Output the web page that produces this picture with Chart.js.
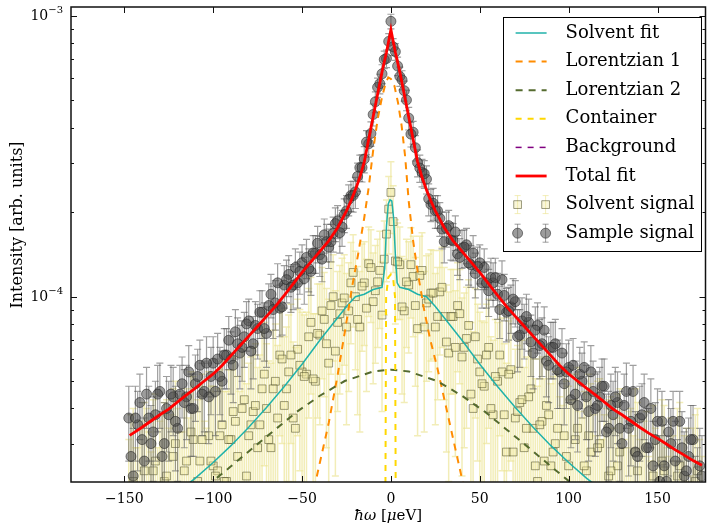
<!DOCTYPE html>
<html>
<head>
<meta charset="utf-8">
<script src="https://cdn.jsdelivr.net/npm/chart.js@4.4.1/dist/chart.umd.min.js"></script>
<style>
  html, body { margin: 0; padding: 0; background: #fff; }
  #wrap { width: 712px; height: 528px; }
</style>
</head>
<body>
<div id="wrap"><canvas id="qensChart" width="712" height="528"></canvas></div>
<script>
// all intensities are typed in units of 1e-6 (arb. units)
var UNIT = 1e-6;

// energy transfer bins of the measured spectra [ueV], first half of the bins
var energy = [-147.5,-145,-142.5,-140,-137.5,-135,-132.5,-130,-127.5,-125,-122.5,-120,-117.5,-115,-112.5,-110,-107.5,-105,-102.5,-100,
  -97.5,-95,-92.5,-90,-87.5,-85,-82.5,-80,-77.5,-75,-72.5,-70,-67.5,-65,-62.5,-60,-57.5,-55,-52.5,-50,
  -47.5,-45,-42.5,-40,-37.5,-35,-32.5,-30,-27.5,-25,-22.5,-20,-17.5,-15,-12.5,-10,-7.5,-5,-2.5,0,
  2.5,5,7.5,10,12.5,15,17.5,20,22.5,25,27.5,30,32.5,35,37.5,40,42.5,45,47.5,50,
  52.5,55,57.5,60,62.5,65,67.5,70,72.5,75,77.5,80,82.5,85,87.5,90,92.5,95,97.5,100,
  102.5,105,107.5,110,112.5,115,117.5,120,122.5,125,127.5,130,132.5,135,137.5,140,142.5,145,147.5,150,
  152.5,155,157.5,160,162.5,165,167.5,170,172.5,175];

var sampleSignal = [37,23,35,31,45,30,38,46,30,38,44,34,49,44,40,49,57,46,44,58,
  60,50,62,60,75,63,72,82,68,77,88,74,102,95,91,110,120,110,112,132,
  138,123,143,141,166,150,168,186,177,202,229,236,288,309,350,445,556,621,704,955,
  745,608,541,432,385,300,277,262,213,202,190,157,179,158,142,149,153,130,121,132,
  127,105,112,102,115,88,92,96,73,77,81,63,79,68,59,66,68,54,49,56,
  57,41,50,44,54,40,44,48,34,38,42,30,46,36,28,37,42,29,25,36,
  36,22,30,26,36,23,27,31,20,23];
var sampleError = [11,11,11,11,11,11,12,12,12,12,12,12,12,13,13,13,13,13,14,14,
  14,14,15,15,15,16,16,16,17,17,17,18,18,19,19,19,20,20,21,21,
  22,22,22,23,23,24,24,25,26,27,28,30,31,33,36,40,44,48,51,57,
  51,48,44,40,36,33,31,30,28,27,26,25,24,24,23,23,22,22,22,21,
  21,20,20,19,19,19,18,18,17,17,17,16,16,16,15,15,15,14,14,14,
  14,13,13,13,13,13,12,12,12,12,12,12,12,11,11,11,11,11,11,11,
  10,10,10,10,10,10,10,10,9,9];

var solventSignal = [13,22,11,17,21,9,26,17,22,14,27,20,12,26,33,18,26,14,32,25,
  24,35,22,31,36,21,43,32,39,29,47,40,29,50,62,41,54,37,65,54,
  53,81,50,73,83,58,100,81,95,78,112,100,78,112,131,96,113,86,167,235,
  134,130,89,110,118,77,124,95,103,78,104,85,63,85,93,61,71,45,72,54,
  48,66,38,50,54,28,55,37,42,29,44,34,22,36,41,25,30,20,32,25,
  21,34,15,24,28,11,30,18,23,14,25,18,10,21,28,13,18,9,23,14,
  26,12,20,9,25,16,6,18,24,11];
var solventError = [18,18,18,18,19,19,19,19,20,20,20,20,21,21,21,21,22,22,22,23,
  23,24,24,24,25,25,26,26,27,27,28,28,29,30,30,31,32,32,33,34,
  35,36,37,38,39,40,41,42,42,43,44,45,45,45,46,47,47,47,54,67,
  54,47,47,47,46,45,45,45,44,43,42,42,41,40,39,38,37,36,35,34,
  33,32,32,31,30,30,29,28,28,27,27,26,26,25,25,24,24,24,23,23,
  22,22,22,21,21,21,21,20,20,20,20,19,19,19,19,18,18,18,18,18,
  17,17,17,17,17,16,16,16,16,16];

// second half of the bins, in between the ones above
var energyB = [-146.25,-143.75,-141.25,-138.75,-136.25,-133.75,-131.25,-128.75,-126.25,-123.75,-121.25,-118.75,-116.25,-113.75,-111.25,-108.75,-106.25,-103.75,-101.25,-98.75,
  -96.25,-93.75,-91.25,-88.75,-86.25,-83.75,-81.25,-78.75,-76.25,-73.75,-71.25,-68.75,-66.25,-63.75,-61.25,-58.75,-56.25,-53.75,-51.25,-48.75,
  -46.25,-43.75,-41.25,-38.75,-36.25,-33.75,-31.25,-28.75,-26.25,-23.75,-21.25,-18.75,-16.25,-13.75,-11.25,-8.75,-6.25,-3.75,-1.25,1.25,
  3.75,6.25,8.75,11.25,13.75,16.25,18.75,21.25,23.75,26.25,28.75,31.25,33.75,36.25,38.75,41.25,43.75,46.25,48.75,51.25,
  53.75,56.25,58.75,61.25,63.75,66.25,68.75,71.25,73.75,76.25,78.75,81.25,83.75,86.25,88.75,91.25,93.75,96.25,98.75,101.25,
  103.75,106.25,108.75,111.25,113.75,116.25,118.75,121.25,123.75,126.25,128.75,131.25,133.75,136.25,138.75,141.25,143.75,146.25,148.75,151.25,
  153.75,156.25,158.75,161.25,163.75,166.25,168.75,171.25,173.75];

var sampleSignalB = [27,37,42,26,37,33,45,27,40,45,36,45,42,54,40,52,45,58,52,46,
  52,62,70,57,68,66,80,64,79,88,77,93,90,112,92,115,108,127,123,116,
  126,143,155,136,157,157,182,169,196,222,229,268,288,355,381,494,573,698,810,775,
  662,591,501,379,339,287,274,223,215,202,174,175,159,170,138,150,132,143,128,112,
  112,117,117,90,101,89,98,72,82,85,69,76,67,76,57,66,55,63,54,43,
  45,53,56,39,46,41,48,33,41,44,34,41,34,46,27,38,29,40,31,22,
  25,33,36,21,29,24,31,18,25];
var sampleErrorB = [11,11,11,11,11,11,12,12,12,12,12,12,13,13,13,13,13,14,14,14,
  14,15,15,15,16,16,16,17,17,17,18,18,19,19,19,20,20,21,21,22,
  22,22,23,23,24,24,25,26,27,28,29,31,32,35,38,42,46,50,54,54,
  50,46,42,38,35,32,31,29,28,27,26,25,24,24,23,23,22,22,22,21,
  21,20,20,19,19,19,18,18,17,17,17,16,16,16,15,15,15,14,14,14,
  14,13,13,13,13,13,12,12,12,12,12,12,11,11,11,11,11,11,11,10,
  10,10,10,10,10,10,10,9,9];

var solventSignalB = [20,11,18,24,14,24,10,19,23,18,30,13,24,16,31,22,31,12,26,23,
  32,22,31,39,27,40,23,35,41,35,53,31,47,37,60,47,62,34,57,52,
  72,51,74,89,68,93,64,87,99,89,122,83,109,91,127,105,124,136,205,185,
  133,92,113,130,93,119,78,98,103,85,108,69,85,66,87,66,79,40,60,49,
  62,40,52,62,38,53,28,39,43,34,47,25,35,26,38,28,34,18,27,21,
  31,17,25,32,17,29,11,20,24,17,28,12,20,13,24,16,21,8,16,13,
  24,10,15,23,11,18,7,22,15];
var solventErrorB = [18,18,18,18,19,19,19,19,20,20,20,20,21,21,21,21,22,22,22,23,
  23,24,24,24,25,25,26,26,27,27,28,28,29,30,30,31,32,32,33,34,
  35,36,37,38,39,40,41,42,42,43,44,45,45,45,46,47,47,50,63,63,
  50,47,47,46,45,45,45,44,43,42,42,41,40,39,38,37,36,35,34,33,
  32,32,31,30,30,29,28,28,27,27,26,26,25,25,24,24,24,23,23,22,
  22,22,21,21,21,21,20,20,20,20,19,19,19,19,18,18,18,18,18,17,
  17,17,17,17,16,16,16,16,16];

// fitted curves
var solventFitE = [-150,-140,-130,-120,-110,-100,-90,-80,-70,-60,-50,-40,-30,-25,-20,-15,-10,-5,
  -3.5,-2.5,-1.5,-0.5,0.5,1.5,2.5,3.5,5,10,15,20,25,30,40,50,60,70,80,90,100,110,120,130,140,150,177];
var solventFit = [15.0,16.4,18.2,20.2,22.6,25.7,29.5,34.3,40.3,47.9,57.5,70.0,84.1,92.3,100,102,106,108,
  126,178,214,221,219,191,141,112,108,106,102,100,92.3,84.1,70.0,57.5,47.9,40.3,34.3,29.5,25.7,22.6,20.2,18.2,16.4,15.0,12.3];

var lorentz1E = [-48,-41,-35,-30,-25,-22,-18.5,-15,-12.5,-10,-7.5,-5,-3,-1.5,0,2,4,6,8,10,12.5,15,18.5,22,26,32,39,45];
var lorentz1 = [15.1,24.0,35.5,52.5,81.3,107,141,191,245,331,427,513,575,603,596,562,490,407,316,219,158,123,91.2,70.8,56.2,38.0,24.0,16.2];

var lorentz2E = [-150,-130,-115,-100,-90,-77,-65,-53,-40,-26,-10,0,10,26,40,53,65,77,90,100,115,130,150,177];
var lorentz2 = [12.6,15.7,18.5,22.1,24.9,29.2,33.7,38.9,44.4,50.1,54.2,55.0,54.2,50.1,44.4,38.9,33.7,29.2,24.9,22.1,18.5,15.7,12.6,10.0];

var containerE = [-6,-3.2,-2.7,-1.5,0,1.2,2.3,2.8,6];
var container = [2.5,12.6,100,117,120,117,100,12.6,2.5];

var backgroundE = [-180,177];
var background = [12,12];

var totalFitE = [-147,-145,-140,-135,-130,-125,-120,-115,-110,-105,-100,-95,-90,-85,-80,-75,-70,-65,-60,-55,-50,-45,-40,-35,-30,-25,
  -22.5,-20,-17.5,-15,-12.5,-10,-7.5,-5,-2.5,0,2.5,5,7.5,10,12.5,15,17.5,20,22.5,
  25,30,35,40,45,50,55,60,65,70,75,80,85,90,95,100,105,110,115,120,125,130,135,140,145,150,155,160,165,170,175];
var totalFit = [32.1,32.7,34.3,36.1,38.0,39.8,42.2,44.7,47.3,50.1,53.1,56.9,61.7,66.8,72.4,78.5,85.1,92.3,101,111,122,133,145,158,176,202,
  219,240,266,302,363,437,525,631,741,891,741,631,525,437,363,302,266,240,219,
  202,176,158,145,133,122,111,101,92.3,85.1,78.5,72.4,66.8,61.7,56.9,53.1,50.1,47.3,44.7,42.2,39.8,38.0,36.1,34.3,32.7,31.3,29.9,28.5,27.3,26.1,25.1];

// axis ticks
var xTicks = [-150, -100, -50, 0, 50, 100, 150];
var yMajorTicks = [1e-4, 1e-3];
var yLabelBase = '10';
var yLabelExponents = ['\u22124', '\u22123'];
var yMinorTicks = [3e-5, 4e-5, 5e-5, 6e-5, 7e-5, 8e-5, 9e-5, 2e-4, 3e-4, 4e-4, 5e-4, 6e-4, 7e-4, 8e-4, 9e-4];

var legendOrder = ['Solvent fit', 'Lorentzian 1', 'Lorentzian 2', 'Container', 'Background', 'Total fit', 'Solvent signal', 'Sample signal'];

var SERIF = "'DejaVu Serif', 'Liberation Serif', serif";

function toPoints(xs, ys) {
  return xs.map(function (x, i) { return { x: x, y: ys[i] * UNIT }; });
}

function toErrors(es) {
  return es.map(function (e) { return e * UNIT; });
}

function lineSet(label, xs, ys, color, width, dash) {
  return {
    label: label,
    data: toPoints(xs, ys),
    showLine: true,
    pointRadius: 0,
    borderColor: color,
    backgroundColor: color,
    borderWidth: width,
    borderDash: dash,
    fill: false,
    tension: 0,
    clip: 0
  };
}

function majorIndex(v) {
  for (var i = 0; i < yMajorTicks.length; i++) {
    if (Math.abs(v / yMajorTicks[i] - 1) < 1e-6) return i;
  }
  return -1;
}

// dataset 0 is drawn on top in Chart.js
var datasets = [
  lineSet('Total fit', totalFitE, totalFit, '#ff0000', 2.8, []),
  lineSet('Background', backgroundE, background, '#800080', 1.5, [6, 6]),
  lineSet('Container', containerE, container, '#ffd700', 2, [6, 6]),
  lineSet('Lorentzian 2', lorentz2E, lorentz2, '#556b2f', 2, [7, 6]),
  lineSet('Lorentzian 1', lorentz1E, lorentz1, '#ff8c00', 2, [7, 6]),
  lineSet('Solvent fit', solventFitE, solventFit, '#20b2aa', 1.5, []),
  {
    label: 'Sample signal',
    data: toPoints(energy, sampleSignal).concat(toPoints(energyB, sampleSignalB)),
    errors: toErrors(sampleError).concat(toErrors(sampleErrorB)),
    errorColor: 'rgba(90, 90, 90, 0.58)',
    errorWidth: 1.2,
    pointStyle: 'circle',
    pointRadius: 5,
    backgroundColor: 'rgba(75, 75, 75, 0.55)',
    borderColor: 'rgba(35, 35, 35, 0.55)',
    borderWidth: 1,
    clip: 0
  },
  {
    label: 'Solvent signal',
    data: toPoints(energy, solventSignal).concat(toPoints(energyB, solventSignalB)),
    errors: toErrors(solventError).concat(toErrors(solventErrorB)),
    errorColor: 'rgba(236, 228, 150, 0.68)',
    errorWidth: 1.5,
    pointStyle: 'rect',
    pointRadius: 5.5,
    backgroundColor: 'rgba(240, 232, 160, 0.4)',
    borderColor: 'rgba(80, 80, 40, 0.55)',
    borderWidth: 1,
    clip: 0
  }
];

// vertical error bars with caps, drawn just before each dataset's markers
var errorBars = {
  id: 'errorBars',
  beforeDatasetDraw: function (chart, args) {
    var ds = chart.data.datasets[args.index];
    if (!ds.errors) return;
    var ctx = chart.ctx, a = chart.chartArea, ys = chart.scales.y;
    ctx.save();
    ctx.beginPath();
    ctx.rect(a.left, a.top, a.right - a.left, a.bottom - a.top);
    ctx.clip();
    ctx.strokeStyle = ds.errorColor;
    ctx.lineWidth = ds.errorWidth;
    args.meta.data.forEach(function (pt, i) {
      var v = ds.data[i].y, e = ds.errors[i];
      var top = ys.getPixelForValue(v + e);
      var bot = v - e > 0 ? ys.getPixelForValue(v - e) : a.bottom + 10;
      ctx.beginPath();
      ctx.moveTo(pt.x, top); ctx.lineTo(pt.x, bot);
      ctx.moveTo(pt.x - 3.5, top); ctx.lineTo(pt.x + 3.5, top);
      ctx.moveTo(pt.x - 3.5, bot); ctx.lineTo(pt.x + 3.5, bot);
      ctx.stroke();
    });
    ctx.restore();
  }
};

// matplotlib style frame with inward ticks on all four sides, plus y tick labels
var frameTicks = {
  id: 'frameTicks',
  afterDatasetsDraw: function (chart) {
    var ctx = chart.ctx, a = chart.chartArea, xs = chart.scales.x, ys = chart.scales.y;
    ctx.save();
    ctx.strokeStyle = '#111';
    ctx.lineWidth = 1;
    ctx.beginPath();
    xs.ticks.forEach(function (t) {
      var px = Math.round(xs.getPixelForValue(t.value)) + 0.5;
      ctx.moveTo(px, a.bottom); ctx.lineTo(px, a.bottom - 6);
      ctx.moveTo(px, a.top); ctx.lineTo(px, a.top + 6);
    });
    ys.ticks.forEach(function (t) {
      var py = Math.round(ys.getPixelForValue(t.value)) + 0.5;
      var len = majorIndex(t.value) >= 0 ? 6 : 3;
      ctx.moveTo(a.left, py); ctx.lineTo(a.left + len, py);
      ctx.moveTo(a.right, py); ctx.lineTo(a.right - len, py);
    });
    ctx.stroke();
    ctx.lineWidth = 1.5;
    ctx.strokeRect(a.left, a.top, a.right - a.left, a.bottom - a.top);

    // "10" with a raised exponent
    ctx.fillStyle = '#000';
    ctx.textAlign = 'right';
    ctx.textBaseline = 'middle';
    ys.ticks.forEach(function (t) {
      var k = majorIndex(t.value);
      if (k < 0) return;
      var py = ys.getPixelForValue(t.value);
      ctx.font = '10px ' + SERIF;
      var ew = ctx.measureText(yLabelExponents[k]).width;
      ctx.fillText(yLabelExponents[k], a.left - 8, py - 5);
      ctx.font = '14px ' + SERIF;
      ctx.fillText(yLabelBase, a.left - 8 - ew, py + 1);
    });
    ctx.restore();
  }
};

// axis titles and the boxed legend in the upper right corner
var annotate = {
  id: 'annotate',
  afterDraw: function (chart) {
    var ctx = chart.ctx, a = chart.chartArea;
    ctx.save();
    ctx.fillStyle = '#000';

    // x title with italic symbols
    var parts = [['italic', '\u0127\u03C9'], ['normal', ' ['], ['italic', '\u03BC'], ['normal', 'eV]']];
    var total = 0;
    parts.forEach(function (p) { ctx.font = p[0] + ' 15px ' + SERIF; total += ctx.measureText(p[1]).width; });
    var cx = (a.left + a.right) / 2 - total / 2;
    ctx.textBaseline = 'alphabetic';
    ctx.textAlign = 'left';
    parts.forEach(function (p) {
      ctx.font = p[0] + ' 15px ' + SERIF;
      ctx.fillText(p[1], cx, 520);
      cx += ctx.measureText(p[1]).width;
    });

    // y title
    ctx.save();
    ctx.translate(18, 225);
    ctx.rotate(-Math.PI / 2);
    ctx.font = '16px ' + SERIF;
    ctx.textAlign = 'center';
    ctx.textBaseline = 'middle';
    ctx.fillText('Intensity [arb. units]', 0, 0);
    ctx.restore();

    // legend
    var rowH = 28.6;
    ctx.font = '18px ' + SERIF;
    var maxW = 0;
    legendOrder.forEach(function (l) { maxW = Math.max(maxW, ctx.measureText(l).width); });
    var right = a.right - 5, top = a.top + 10;
    var left = right - (63 + maxW + 6);
    var bottom = top + 16 + rowH * (legendOrder.length - 1) + 18;
    ctx.fillStyle = '#fff';
    ctx.fillRect(left, top, right - left, bottom - top);
    ctx.strokeStyle = '#000';
    ctx.lineWidth = 1;
    ctx.strokeRect(Math.round(left) + 0.5, Math.round(top) + 0.5, Math.round(right - left), Math.round(bottom - top));

    legendOrder.forEach(function (label, k) {
      var ds = chart.data.datasets.filter(function (d) { return d.label === label; })[0];
      var y = top + 16 + rowH * k;
      var x0 = left + 13, x1 = left + 44;
      if (ds.errors) {
        [x0 + 2, x1 - 1].forEach(function (mx) {
          ctx.strokeStyle = ds.errorColor;
          ctx.lineWidth = 1;
          ctx.beginPath();
          ctx.moveTo(mx, y - 9); ctx.lineTo(mx, y + 9);
          ctx.moveTo(mx - 3, y - 9); ctx.lineTo(mx + 3, y - 9);
          ctx.moveTo(mx - 3, y + 9); ctx.lineTo(mx + 3, y + 9);
          ctx.stroke();
          ctx.fillStyle = ds.backgroundColor;
          ctx.strokeStyle = ds.borderColor;
          ctx.beginPath();
          if (ds.pointStyle === 'circle') {
            ctx.arc(mx, y, ds.pointRadius, 0, Math.PI * 2);
          } else {
            var s = ds.pointRadius * Math.SQRT1_2;
            ctx.rect(mx - s, y - s, 2 * s, 2 * s);
          }
          ctx.fill();
          ctx.stroke();
        });
      } else {
        ctx.strokeStyle = ds.borderColor;
        ctx.lineWidth = ds.borderWidth;
        ctx.setLineDash(ds.borderDash);
        ctx.beginPath();
        ctx.moveTo(x0, y); ctx.lineTo(x1, y);
        ctx.stroke();
        ctx.setLineDash([]);
      }
      ctx.fillStyle = '#000';
      ctx.font = '18px ' + SERIF;
      ctx.textAlign = 'left';
      ctx.textBaseline = 'middle';
      ctx.fillText(label, left + 63, y);
    });
    ctx.restore();
  }
};

Chart.defaults.font.family = SERIF;
Chart.defaults.color = '#000';

var ctxQens = document.getElementById('qensChart').getContext('2d');
var qensChart = new Chart(ctxQens, {
  type: 'scatter',
  data: { datasets: datasets },
  options: {
    responsive: false,
    animation: false,
    events: [],
    layout: { padding: { left: 0, top: 7, right: 1, bottom: 0 } },
    plugins: {
      legend: { display: false },
      tooltip: { enabled: false }
    },
    scales: {
      x: {
        type: 'linear',
        min: -180,
        max: 177,
        grid: { display: false },
        border: { display: false },
        afterBuildTicks: function (scale) {
          scale.ticks = xTicks.map(function (v) { return { value: v }; });
        },
        afterFit: function (scale) { scale.height = 46; },
        ticks: {
          autoSkip: false,
          maxRotation: 0,
          padding: 1,
          font: { size: 14 },
          callback: function (v) { return v < 0 ? '\u2212' + (-v) : String(v); }
        }
      },
      y: {
        type: 'logarithmic',
        min: 2.19e-5,
        max: 1.074e-3,
        grid: { display: false },
        border: { display: false },
        afterBuildTicks: function (scale) {
          scale.ticks = yMinorTicks.concat(yMajorTicks).sort(function (p, q) { return p - q; })
            .map(function (v) { return { value: v }; });
        },
        afterFit: function (scale) { scale.width = 71; },
        ticks: { display: false }
      }
    }
  },
  plugins: [errorBars, frameTicks, annotate]
});
</script>
</body>
</html>
